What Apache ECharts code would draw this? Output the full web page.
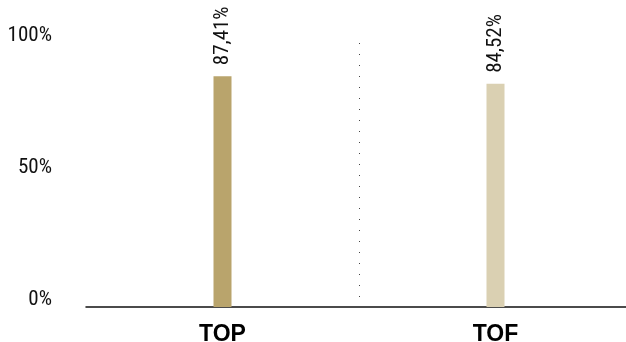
<!DOCTYPE html>
<html>
<head>
<meta charset="utf-8">
<script src="https://cdn.jsdelivr.net/npm/echarts@6/dist/echarts.min.js"></script>
<style>html,body{margin:0;padding:0;background:#fff}#c{width:626px;height:342px}</style>
</head>
<body>
<div id="c"></div>
<script>
var categories = ['TOP', 'TOF'];
var values = [87.41, 84.52];
var valueLabels = ['87,41%', '84,52%'];
var yTicks = [0, 50, 100];
var barColors = ['#b9a46c', '#dad0b2'];

var condensed = "'Roboto Condensed', 'Liberation Sans Narrow', sans-serif";
var chart = echarts.init(document.getElementById('c'));
chart.setOption({
  animation: false,
  grid: { left: 86, right: -6, top: 43, bottom: 35, containLabel: false, outerBoundsMode: 'none' },
  xAxis: {
    type: 'category',
    data: categories,
    boundaryGap: true,
    axisLine: { show: true, lineStyle: { color: '#111', width: 1.5 } },
    axisTick: { show: false },
    axisLabel: { margin: 16, fontSize: 23, fontWeight: 'bold', color: '#000', fontFamily: "'Liberation Sans', Arial, sans-serif" },
    splitLine: { show: true, interval: 0, lineStyle: { color: ['rgba(0,0,0,0)', '#444', 'rgba(0,0,0,0)'], width: 1, type: [1, 10] } }
  },
  yAxis: {
    type: 'value',
    min: 0, max: 100, interval: 50,
    axisLine: { show: false },
    axisTick: { show: false },
    splitLine: { show: false },
    axisLabel: {
      margin: 34, fontSize: 21, color: '#111', fontFamily: condensed,
      verticalAlign: 'bottom', lineHeight: 14,
      formatter: function (v) { return yTicks.indexOf(v) >= 0 ? v + '%' : ''; }
    }
  },
  series: [{
    type: 'bar',
    barWidth: 18,
    data: values.map(function (v, i) { return { value: v, itemStyle: { color: barColors[i] } }; }),
    label: {
      show: true, position: 'top', rotate: 90, distance: 11,
      align: 'left', verticalAlign: 'middle',
      fontSize: 21, color: '#111', fontFamily: condensed,
      formatter: function (p) { return valueLabels[p.dataIndex]; }
    }
  }]
});
</script>
</body>
</html>
